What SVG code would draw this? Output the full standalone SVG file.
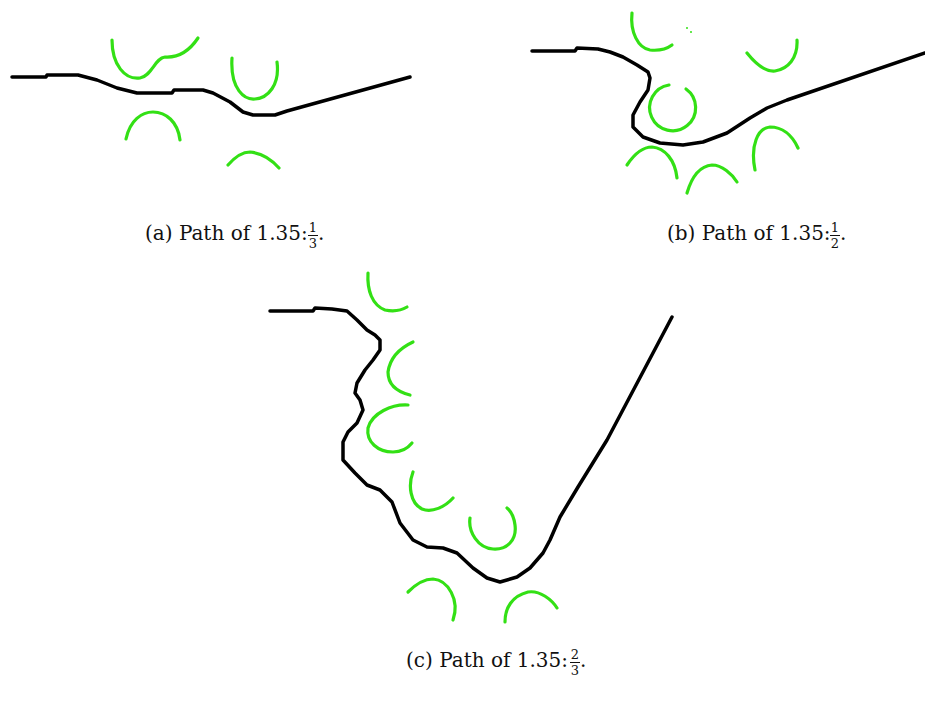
<svg xmlns="http://www.w3.org/2000/svg" width="925" height="701" viewBox="0 0 925 701">
<style>
.path{fill:none;stroke:#000;stroke-width:3.5;stroke-linejoin:round;stroke-linecap:round}
.obs{fill:none;stroke:#33e015;stroke-width:3.2;stroke-linecap:round}
.cap{font-family:"DejaVu Serif","Liberation Serif",serif;font-size:20px;fill:#111}
.frac{font-family:"DejaVu Serif","Liberation Serif",serif;font-size:13px;fill:#111;text-anchor:middle}
.bar{stroke:#111;stroke-width:1}
</style>
<rect width="925" height="701" fill="#fff"/>
<g id="panel-a">
<g class="obstacles">
<path class="obs" d="M112,40 C112,65 125,80 140,78 C152,76 155,58 165,57 C180,58 190,50 198,38"/>
<path class="obs" d="M232,58 C230,90 245,100 255,99 C268,98 280,85 277,62"/>
<path class="obs" d="M126,139 C130,120 142,112 153,112 C166,112 178,122 180,140"/>
<path class="obs" d="M228,165 C235,157 243,152 250,152 C262,153 272,160 279,168"/>
</g>
<path class="path" d="M12,77 L46,77 L47,75 L78,75 L97,80 L117,88 L137,93 L172,93 L174,90 L203,90 L213,93 L230,102 L243,112 L253,115 L275,115 L287,111 L410,77"/>
<text class="cap" x="145" y="240">(a) Path of 1.35:</text>
<text class="frac" x="313" y="232">1</text>
<line class="bar" x1="308" y1="235.5" x2="318" y2="235.5"/>
<text class="frac" x="313" y="248">3</text>
<text class="cap" x="318" y="240">.</text>
</g>
<g id="panel-b">
<g class="obstacles">
<path class="obs" d="M632,13 C630,32 638,48 650,50 C660,51 668,48 672,45"/>
<circle cx="687" cy="28" r="1" fill="#33e015"/>
<circle cx="691" cy="32" r="1" fill="#33e015"/>
<path class="obs" d="M747,53 C755,63 765,72 775,71 C788,69 798,58 797,40"/>
<path class="obs" d="M686,89 A23,23 0 1 1 669,85"/>
<path class="obs" d="M627,165 C635,153 643,147 652,147 C665,148 675,160 677,178"/>
<path class="obs" d="M687,193 C692,176 700,166 712,165 C722,165 732,174 737,182"/>
<path class="obs" d="M755,170 C750,145 758,128 770,127 C782,127 792,135 798,148"/>
</g>
<path class="path" d="M532,51 L575,51 L577,48 L598,49 L610,52 L623,57 L637,65 L648,72 L650,78 L648,90 L640,102 L633,115 L633,127 L643,137 L660,143 L683,145 L703,142 L727,133 L750,118 L767,108 L787,100 L925,53"/>
<text class="cap" x="667" y="240">(b) Path of 1.35:</text>
<text class="frac" x="835" y="232">1</text>
<line class="bar" x1="830" y1="235.5" x2="840" y2="235.5"/>
<text class="frac" x="835" y="248">2</text>
<text class="cap" x="840" y="240">.</text>
</g>
<g id="panel-c">
<g class="obstacles">
<path class="obs" d="M368,273 C367,290 372,305 385,310 C395,312 402,310 407,307"/>
<path class="obs" d="M413,342 C400,348 390,358 388,372 C388,385 398,392 410,395"/>
<path class="obs" d="M408,405 C392,404 372,413 368,428 C366,442 378,452 393,452 C402,452 408,448 412,443"/>
<path class="obs" d="M413,472 C408,485 410,503 422,509 C432,513 445,507 453,498"/>
<path class="obs" d="M470,518 C468,532 478,548 493,549 C507,550 517,540 515,525 C514,517 512,512 507,508"/>
<path class="obs" d="M408,592 C416,584 425,579 433,579 C448,580 460,600 453,620"/>
<path class="obs" d="M505,622 C505,608 512,596 528,592 C540,590 552,600 557,608"/>
</g>
<path class="path" d="M270,311 L313,311 L315,308 L332,309 L347,311 L357,320 L367,330 L375,335 L380,340 L380,350 L373,360 L365,370 L357,383 L355,393 L360,400 L363,410 L357,423 L348,432 L343,442 L343,460 L355,473 L367,485 L380,490 L392,502 L400,523 L413,540 L427,547 L443,548 L457,553 L473,568 L487,578 L500,582 L517,577 L530,568 L543,553 L550,540 L560,517 L578,487 L607,440 L672,317"/>
<text class="cap" x="406" y="667">(c) Path of 1.35:</text>
<text class="frac" x="575" y="659">2</text>
<line class="bar" x1="570" y1="662.5" x2="580" y2="662.5"/>
<text class="frac" x="575" y="675">3</text>
<text class="cap" x="580" y="667">.</text>
</g>
</svg>
